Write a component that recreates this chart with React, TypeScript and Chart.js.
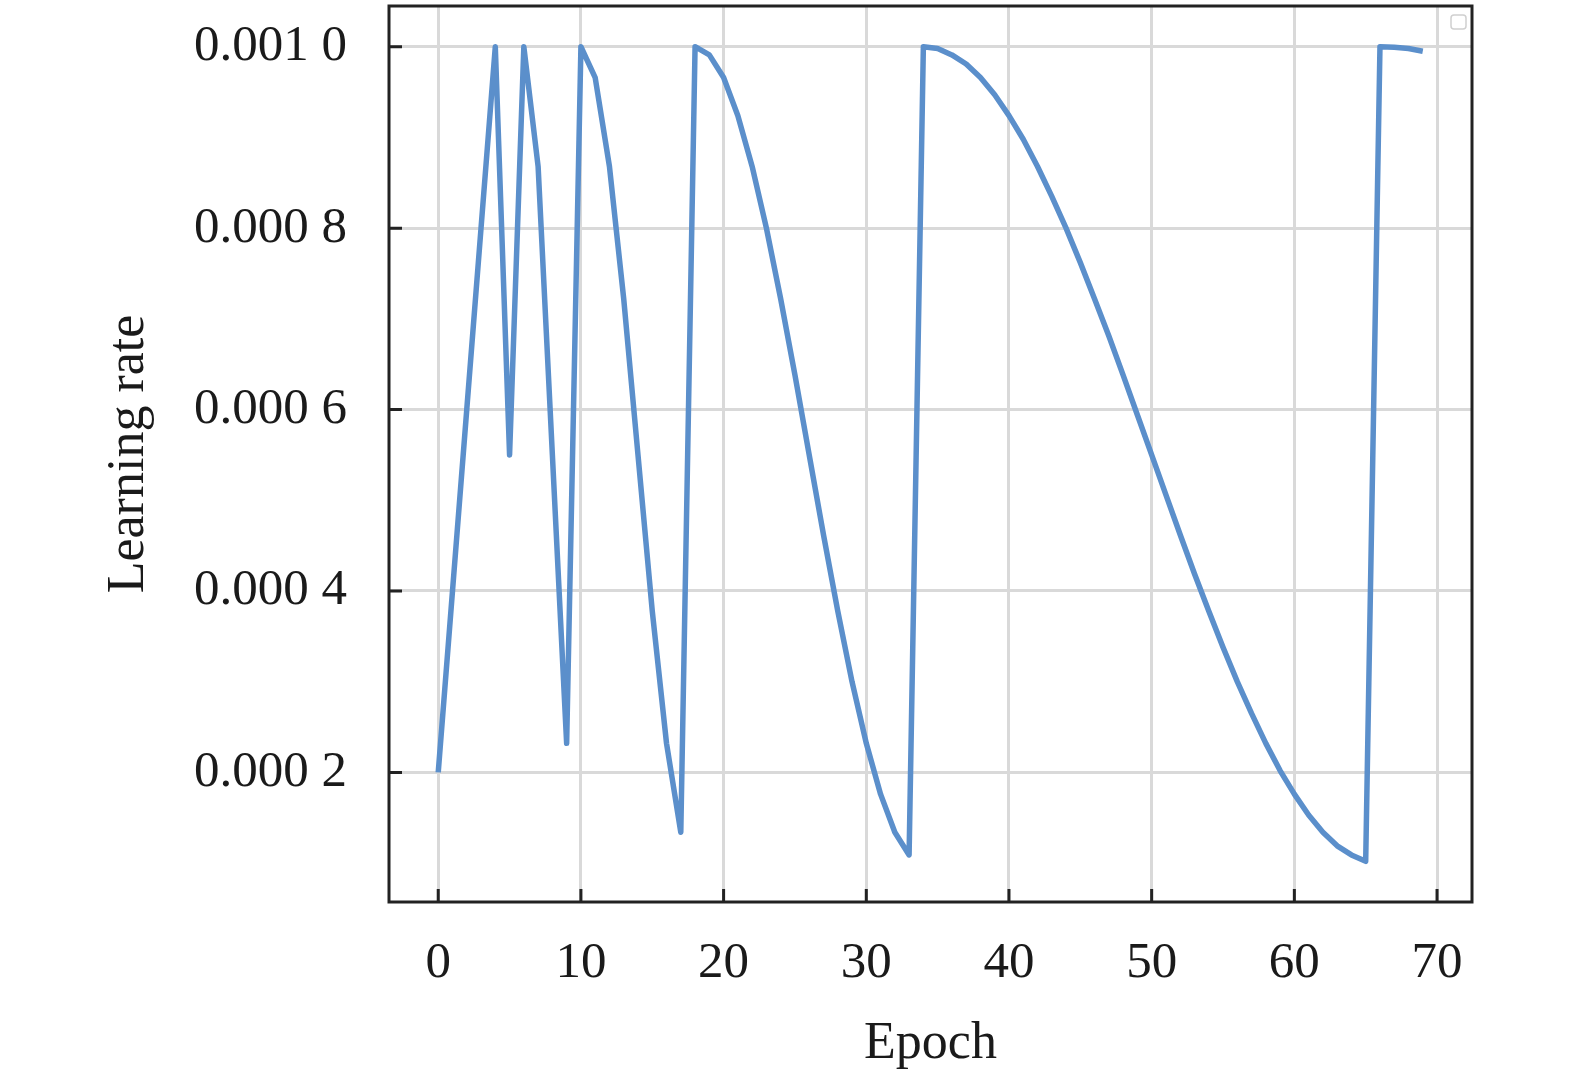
import React, { useEffect, useRef } from "react";
import { Chart, registerables } from "chart.js";

Chart.register(...registerables);

const epochs = [
  0, 1, 2, 3, 4, 5, 6, 7, 8, 9,
  10, 11, 12, 13, 14, 15, 16, 17, 18, 19,
  20, 21, 22, 23, 24, 25, 26, 27, 28, 29,
  30, 31, 32, 33, 34, 35, 36, 37, 38, 39,
  40, 41, 42, 43, 44, 45, 46, 47, 48, 49,
  50, 51, 52, 53, 54, 55, 56, 57, 58, 59,
  60, 61, 62, 63, 64, 65, 66, 67, 68, 69,
];

const learningRate = [
  0.0002, 0.0004, 0.0006, 0.0008, 0.001, 0.00055, 0.001, 0.000868, 0.00055, 0.000232,
  0.001, 0.000966, 0.000868, 0.000722, 0.00055, 0.000378, 0.000232, 0.000134, 0.001, 0.000991,
  0.000966, 0.000924, 0.000868, 0.0008, 0.000722, 0.000638, 0.00055, 0.000462, 0.000378, 0.0003,
  0.000232, 0.000176, 0.000134, 0.000109, 0.001, 0.000998, 0.000991, 0.000981, 0.000966, 0.000947,
  0.000924, 0.000898, 0.000868, 0.000835, 0.0008, 0.000762, 0.000722, 0.000681, 0.000638, 0.000594,
  0.00055, 0.000506, 0.000462, 0.000419, 0.000378, 0.000338, 0.0003, 0.000265, 0.000232, 0.000202,
  0.000176, 0.000153, 0.000134, 0.000119, 0.000109, 0.000102, 0.001, 0.0009995, 0.000998, 0.000995,
];

const xTickValues = [0, 10, 20, 30, 40, 50, 60, 70];
const xTickLabels = ["0", "10", "20", "30", "40", "50", "60", "70"];
const yTickValues = [0.0002, 0.0004, 0.0006, 0.0008, 0.001];
const yTickLabels = ["0.000 2", "0.000 4", "0.000 6", "0.000 8", "0.001 0"];

const xAxisTitle = "Epoch";
const yAxisTitle = "Learning rate";

const FONT = "'Liberation Serif', 'Times New Roman', serif";
const TEXT = "#1a1a1a";
const FRAME = "#222222";
const GRID = "#d9d9d9";
const LINE = "#5b8fcb";

function labelFor(values: number[], labels: string[], v: number): string {
  for (let i = 0; i < values.length; i++) {
    if (Math.abs(values[i] - v) < 1e-12) return labels[i];
  }
  return "";
}

export default function App() {
  const ref = useRef<HTMLCanvasElement>(null);

  useEffect(() => {
    const canvas = ref.current;
    if (!canvas) return;

    const framePlugin = {
      id: "frameAndTicks",
      afterDraw(chart: any) {
        const { ctx, chartArea } = chart;
        const { left, right, top, bottom } = chartArea;
        const xs = chart.scales.x;
        const ys = chart.scales.y;
        ctx.save();
        // inward ticks
        ctx.strokeStyle = FRAME;
        ctx.lineWidth = 3;
        ctx.lineCap = "butt";
        ctx.beginPath();
        xTickValues.forEach((v) => {
          const px = xs.getPixelForValue(v);
          ctx.moveTo(px, bottom);
          ctx.lineTo(px, bottom - 13);
        });
        yTickValues.forEach((v) => {
          const py = ys.getPixelForValue(v);
          ctx.moveTo(left, py);
          ctx.lineTo(left + 13, py);
        });
        ctx.stroke();
        // frame
        ctx.lineWidth = 3;
        ctx.strokeRect(left, top, right - left, bottom - top);
        // empty legend box
        ctx.beginPath();
        if ((ctx as any).roundRect) {
          (ctx as any).roundRect(right - 21, top + 9, 15, 14, 3);
        } else {
          ctx.rect(right - 21, top + 9, 15, 14);
        }
        ctx.fillStyle = "#ffffff";
        ctx.fill();
        ctx.strokeStyle = "#d0d0d0";
        ctx.lineWidth = 1.5;
        ctx.stroke();
        ctx.restore();
      },
    };

    const chart = new Chart(canvas, {
      type: "line",
      data: {
        datasets: [
          {
            data: epochs.map((e, i) => ({ x: e, y: learningRate[i] })),
            borderColor: LINE,
            backgroundColor: LINE,
            borderWidth: 5.5,
            pointRadius: 0,
            pointHoverRadius: 0,
            tension: 0,
            fill: false,
            borderJoinStyle: "round",
            borderCapStyle: "butt",
          },
        ],
      },
      options: {
        responsive: false,
        animation: false,
        devicePixelRatio: 1,
        layout: { padding: { top: 6, right: 103, left: 0, bottom: 0 } },
        plugins: {
          legend: { display: false },
          tooltip: { enabled: false },
        },
        scales: {
          x: {
            type: "linear",
            min: -3.45,
            max: 72.45,
            afterBuildTicks: (s: any) => {
              s.ticks = xTickValues.map((v) => ({ value: v }));
            },
            afterFit: (s: any) => {
              s.height = 179;
              s.paddingLeft = 0;
              s.paddingRight = 0;
              s.paddingTop = 0;
              s.paddingBottom = 0;
            },
            ticks: {
              callback: (v: any) => labelFor(xTickValues, xTickLabels, Number(v)),
              font: { family: FONT, size: 51 },
              color: TEXT,
              padding: 31,
              maxRotation: 0,
              autoSkip: false,
            },
            grid: { color: GRID, lineWidth: 3, drawTicks: false },
            border: { display: false },
            title: {
              display: true,
              text: xAxisTitle,
              font: { family: FONT, size: 52 },
              color: TEXT,
              padding: { top: 0, bottom: 5 },
            },
          },
          y: {
            type: "linear",
            min: 0.0000571,
            max: 0.0010449,
            afterBuildTicks: (s: any) => {
              s.ticks = yTickValues.map((v) => ({ value: v }));
            },
            afterFit: (s: any) => {
              s.width = 389;
              s.paddingTop = 0;
              s.paddingBottom = 0;
              s.paddingLeft = 0;
              s.paddingRight = 0;
            },
            ticks: {
              callback: (v: any) => labelFor(yTickValues, yTickLabels, Number(v)),
              font: { family: FONT, size: 51 },
              color: TEXT,
              padding: 42,
              autoSkip: false,
            },
            grid: { color: GRID, lineWidth: 3, drawTicks: false },
            border: { display: false },
            title: {
              display: true,
              text: yAxisTitle,
              font: { family: FONT, size: 52 },
              color: TEXT,
              padding: { top: 98, bottom: 0 },
            },
          },
        },
      } as any,
      plugins: [framePlugin],
    });

    return () => {
      chart.destroy();
    };
  }, []);

  return (
    <div
      style={{
        position: "absolute",
        left: 0,
        top: 0,
        width: 1575,
        height: 1081,
        background: "#ffffff",
      }}
    >
      <canvas
        ref={ref}
        width={1575}
        height={1081}
        style={{ width: 1575, height: 1081, display: "block" }}
      />
    </div>
  );
}
